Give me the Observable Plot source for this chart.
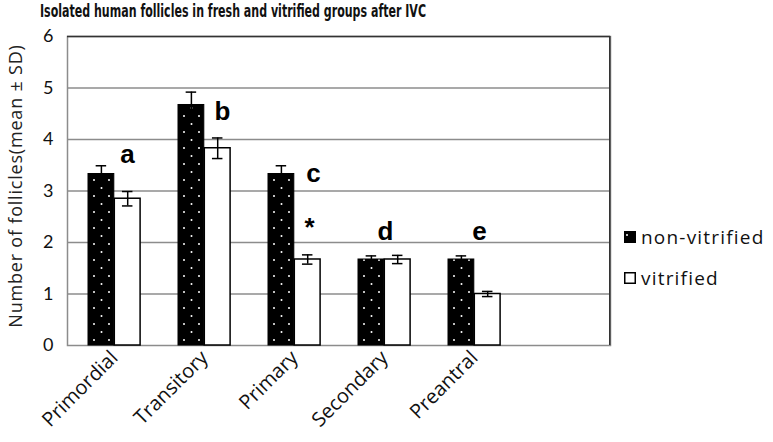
<!DOCTYPE html>
<html><head><meta charset="utf-8">
<script src="https://cdn.jsdelivr.net/npm/d3@7"></script>
<script src="https://cdn.jsdelivr.net/npm/@observablehq/plot@0.6"></script>
<style>
body{margin:0;background:#fff;}
#wrap{position:relative;width:773px;height:442px;overflow:hidden;background:#fff;}
#title{position:absolute;left:40px;top:0px;font-weight:bold;font-size:18px;font-family:"DejaVu Sans Condensed","DejaVu Sans",sans-serif;white-space:nowrap;color:#111;transform-origin:0 0;}
#ylabel{position:absolute;left:15px;top:186px;transform:translate(-50%,-50%) rotate(-90deg);font:18px "Open Sans",sans-serif;letter-spacing:0.8px;white-space:nowrap;color:#222;}
.legend{position:absolute;left:624px;font:19px "Open Sans",sans-serif;letter-spacing:1.2px;display:flex;align-items:center;gap:5px;white-space:nowrap;color:#111;}
.legend svg{display:block;}
</style></head><body>
<svg width="0" height="0" style="position:absolute"><defs>
<pattern id="dots" width="15" height="16" patternUnits="userSpaceOnUse">
<rect width="15" height="16" fill="black"/>
<circle cx="4" cy="4" r="1" fill="white"/>
<circle cx="11.5" cy="12" r="1" fill="white"/>
</pattern>
<pattern id="dotsSmall" width="12" height="12" patternUnits="userSpaceOnUse">
<rect width="12" height="12" fill="black"/>
<circle cx="3" cy="4" r="1" fill="white"/>
</pattern></defs></svg>
<div id="wrap">
<div id="chart"></div>
<div id="title">Isolated human follicles in fresh and vitrified groups after IVC</div>
<div id="ylabel">Number of follicles(mean ± SD)</div>
<div class="legend" style="top:224px"><svg width="12" height="12"><rect x="0.75" y="0.75" width="10.5" height="10.5" fill="url(#dotsSmall)" stroke="black" stroke-width="1.5"/></svg><span>non-vitrified</span></div>
<div class="legend" style="top:265px"><svg width="12" height="12"><rect x="0.75" y="0.75" width="10.5" height="10.5" fill="white" stroke="black" stroke-width="1.5"/></svg><span>vitrified</span></div>
</div>
<script>
const categories = ["Primordial", "Transitory", "Primary", "Secondary", "Preantral"];
const nonVitrifiedMean = [3.33, 4.67, 3.33, 1.67, 1.67];
const nonVitrifiedSD = [0.16, 0.25, 0.16, 0.07, 0.07];
const vitrifiedMean = [2.85, 3.83, 1.67, 1.67, 1.0];
const vitrifiedSD = [0.14, 0.2, 0.09, 0.08, 0.05];
const letters = ["a", "b", "c", "d", "e"];
const letterY = [3.55, 4.37, 3.17, 2.04, 2.04];
const starCategory = ["Primary"];
const starY = [2.12];
const yTicks = [0, 1, 2, 3, 4, 5, 6];
const gridValues = [1, 2, 3, 4, 5];

const W = 773, H = 442, ML = 67, MR = 163, MT = 36, MB = 97;
const step = (W - ML - MR) / 6;
const pad = 19, bw = 26.3, cap = 5.5;
const blank = " ";

const nonV = categories.map((c, i) => ({category: c, mean: nonVitrifiedMean[i], sd: nonVitrifiedSD[i]}));
const vit = categories.map((c, i) => ({category: c, mean: vitrifiedMean[i], sd: vitrifiedSD[i]}));
const letterData = categories.map((c, i) => ({category: c, label: letters[i], y: letterY[i]}));
const letterDx = [13, 18, 19, 1, 5];
const starData = starCategory.map((c, i) => ({category: c, label: "*", y: starY[i]}));

const bL = pad, bR = step - pad - bw;            // black bar insets
const wL = pad + bw, wR = step - pad - 2 * bw;   // white bar insets
const bC = pad + bw / 2, wC = pad + 1.5 * bw;    // bar centers from band left

function errMarks(data, center) {
  const o = {stroke: "black", strokeWidth: 1.5};
  return [
    Plot.ruleX(data, {x: "category", y1: d => d.mean - d.sd, y2: d => d.mean + d.sd, dx: center - step / 2, ...o}),
    Plot.tickY(data, {x: "category", y: d => d.mean + d.sd, insetLeft: center - cap, insetRight: step - center - cap, ...o}),
    Plot.tickY(data, {x: "category", y: d => d.mean - d.sd, insetLeft: center - cap, insetRight: step - center - cap, ...o})
  ];
}

const letterFont = {lineAnchor: "bottom", fontSize: 26, fontWeight: "bold", fontFamily: "Liberation Sans, Arial, sans-serif", fill: "black"};

const chart = Plot.plot({
  width: W, height: H,
  marginLeft: ML, marginRight: MR, marginTop: MT, marginBottom: MB,
  style: {fontFamily: "Lato, sans-serif", fontSize: "18px", background: "transparent", color: "#111"},
  x: {type: "band", domain: [...categories, blank], padding: 0},
  y: {domain: [0, 6]},
  marks: [
    Plot.ruleY(gridValues, {stroke: "#8c8c8c", strokeWidth: 1.5}),
    Plot.frame({stroke: "#8c8c8c", strokeWidth: 1.5}),
    Plot.ruleY([6], {stroke: "#333", strokeWidth: 1.5}),
    Plot.ruleX([blank], {x: d => d, dx: step / 2, y1: 0, y2: 6, stroke: "#333", strokeWidth: 1.5}),
    Plot.barY(nonV, {x: "category", y: "mean", insetLeft: bL, insetRight: bR, fill: "url(#dots)", stroke: "black", strokeWidth: 1}),
    Plot.barY(vit, {x: "category", y: "mean", insetLeft: wL, insetRight: wR, fill: "white", stroke: "black", strokeWidth: 1.5}),
    ...errMarks(nonV, bC),
    ...errMarks(vit, wC),
    ...letterData.map((d, i) => Plot.text([d], {x: "category", y: "y", text: "label", dx: letterDx[i], ...letterFont})),
    Plot.text(starData, {x: "category", y: "y", text: "label", dx: 15, ...letterFont}),
    Plot.axisY({ticks: yTicks, tickSize: 0, tickPadding: 14, fontSize: 18, label: null, tickFormat: d => d}),
    Plot.axisX({tickRotate: -45, tickSize: 0, tickPadding: 9, fontSize: 20, fontFamily: "Open Sans, sans-serif", label: null, tickFormat: d => d})
  ]
});
document.getElementById("chart").appendChild(chart);

// fit the condensed title to the reference width
const t = document.getElementById("title");
const tw = t.getBoundingClientRect().width;
t.style.transform = `scaleX(${386 / tw})`;
</script>
</body></html>
